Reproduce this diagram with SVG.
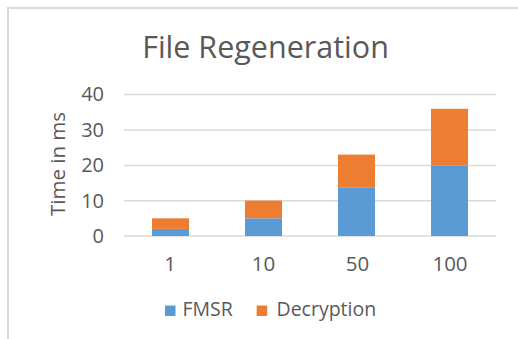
<svg xmlns="http://www.w3.org/2000/svg" width="518" height="339" viewBox="0 0 518 339">
  <style>
    .lbl { font-family: "Open Sans", "Liberation Sans", sans-serif; fill: #595959; }
    .tick { font-size: 20px; text-anchor: end; }
    .cat { font-size: 20.5px; text-anchor: middle; }
    .leg { font-size: 19.5px; }
    .grid { stroke: #d9d9d9; stroke-width: 1.5; }
    .fmsr { fill: #5b9bd5; }
    .dec { fill: #ed7d31; }
  </style>
  <rect x="0" y="0" width="518" height="339" fill="#ffffff"/>
  <!-- chart frame -->
  <g id="frame" fill="none" stroke="#d9d9d9" stroke-width="2">
    <path d="M8 345 V8 H530"/>
  </g>
  <g id="title">
    <text class="lbl" x="265.5" y="58" font-size="30.5" text-anchor="middle">File Regeneration</text>
  </g>
  <!-- gridlines: 0..40 step 10 -->
  <g id="gridlines">
    <line class="grid" x1="124" y1="94.5" x2="496" y2="94.5"/>
    <line class="grid" x1="124" y1="130" x2="496" y2="130"/>
    <line class="grid" x1="124" y1="165.5" x2="496" y2="165.5"/>
    <line class="grid" x1="124" y1="200.8" x2="496" y2="200.8"/>
    <line class="grid" x1="124" y1="236" x2="496" y2="236"/>
  </g>
  <g id="y-axis">
    <text class="lbl tick" x="104" y="101.2">40</text>
    <text class="lbl tick" x="104" y="136.7">30</text>
    <text class="lbl tick" x="104" y="172.2">20</text>
    <text class="lbl tick" x="104" y="207.5">10</text>
    <text class="lbl tick" x="104" y="242.7">0</text>
    <text class="lbl" transform="translate(65 164) rotate(-90)" font-size="20.5" text-anchor="middle">Time in ms</text>
  </g>
  <!-- stacked bars, 3.54 px per ms -->
  <g id="bar-1">
    <rect class="fmsr" x="152" y="228.9" width="37" height="7.1"/>
    <rect class="dec" x="152" y="218.3" width="37" height="10.6"/>
  </g>
  <g id="bar-10">
    <rect class="fmsr" x="245" y="218.3" width="37" height="17.7"/>
    <rect class="dec" x="245" y="200.6" width="37" height="17.7"/>
  </g>
  <g id="bar-50">
    <rect class="fmsr" x="338" y="187.3" width="37" height="48.7"/>
    <rect class="dec" x="338" y="154.6" width="37" height="32.7"/>
  </g>
  <g id="bar-100">
    <rect class="fmsr" x="431" y="165.5" width="37" height="70.5"/>
    <rect class="dec" x="431" y="108.8" width="37" height="56.7"/>
  </g>
  <g id="x-axis">
    <text class="lbl cat" x="170" y="270.5">1</text>
    <text class="lbl cat" x="263.5" y="270.5">10</text>
    <text class="lbl cat" x="357.5" y="270.5">50</text>
    <text class="lbl cat" x="450" y="270.5">100</text>
  </g>
  <g id="legend">
    <rect class="fmsr" x="165" y="305.5" width="10.5" height="10.5"/>
    <text class="lbl leg" x="182.5" y="316">FMSR</text>
    <rect class="dec" x="256.7" y="305.5" width="10.5" height="10.5"/>
    <text class="lbl leg" x="276.5" y="316">Decryption</text>
  </g>
</svg>
